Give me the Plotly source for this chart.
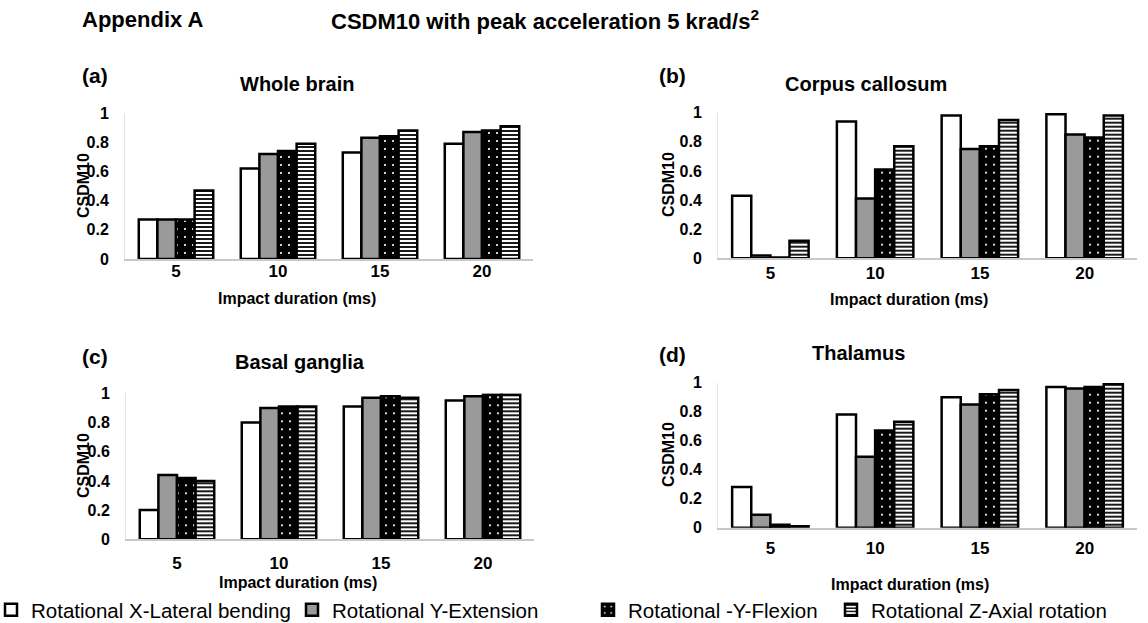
import plotly.graph_objects as go

# Impact durations (ms) on the x axis of every panel
durations = ["5", "10", "15", "20"]

series_names = [
    "Rotational X-Lateral bending",
    "Rotational Y-Extension",
    "Rotational -Y-Flexion",
    "Rotational Z-Axial rotation",
]

# (a) Whole brain
whole_brain_x = [0.27, 0.62, 0.73, 0.79]
whole_brain_y = [0.27, 0.72, 0.83, 0.87]
whole_brain_neg_y = [0.27, 0.74, 0.84, 0.88]
whole_brain_z = [0.47, 0.79, 0.88, 0.91]

# (b) Corpus callosum
corpus_callosum_x = [0.43, 0.94, 0.98, 0.99]
corpus_callosum_y = [0.02, 0.41, 0.75, 0.85]
corpus_callosum_neg_y = [0.005, 0.61, 0.77, 0.83]
corpus_callosum_z = [0.12, 0.77, 0.95, 0.98]

# (c) Basal ganglia
basal_ganglia_x = [0.20, 0.80, 0.91, 0.95]
basal_ganglia_y = [0.44, 0.90, 0.97, 0.98]
basal_ganglia_neg_y = [0.42, 0.91, 0.98, 0.99]
basal_ganglia_z = [0.40, 0.91, 0.97, 0.99]

# (d) Thalamus
thalamus_x = [0.28, 0.78, 0.90, 0.97]
thalamus_y = [0.09, 0.49, 0.85, 0.96]
thalamus_neg_y = [0.02, 0.67, 0.92, 0.97]
thalamus_z = [0.01, 0.73, 0.95, 0.99]

y_ticks = [0, 0.2, 0.4, 0.6, 0.8, 1]
y_tick_text = ["0", "0.2", "0.4", "0.6", "0.8", "1"]

W, H = 1148, 623
FONT = "Liberation Sans, Arial, sans-serif"


def fx(px):
    return px / W


def fy(px):
    return 1 - px / H


panels = [
    dict(label="(a)", title="Whole brain",
         data=[whole_brain_x, whole_brain_y, whole_brain_neg_y, whole_brain_z],
         xdom=(125, 533), ydom=(259, 113), tick_off=-4,
         label_pos=(80, 75), title_pos=(297, 84),
         xtitle_pos=(297, 298), ytitle_pos=(83, 186)),
    dict(label="(b)", title="Corpus callosum",
         data=[corpus_callosum_x, corpus_callosum_y, corpus_callosum_neg_y, corpus_callosum_z],
         xdom=(718, 1137), ydom=(258.3, 112.7), tick_off=-1,
         label_pos=(657, 75), title_pos=(866, 84),
         xtitle_pos=(909, 299), ytitle_pos=(668, 185)),
    dict(label="(c)", title="Basal ganglia",
         data=[basal_ganglia_x, basal_ganglia_y, basal_ganglia_neg_y, basal_ganglia_z],
         xdom=(126, 534), ydom=(539.3, 393.3), tick_off=8,
         label_pos=(80, 356), title_pos=(300, 362),
         xtitle_pos=(298, 582), ytitle_pos=(83, 466)),
    dict(label="(d)", title="Thalamus",
         data=[thalamus_x, thalamus_y, thalamus_neg_y, thalamus_z],
         xdom=(718, 1137), ydom=(527.7, 382.7), tick_off=4,
         label_pos=(657, 354), title_pos=(858, 353),
         xtitle_pos=(910, 584), ytitle_pos=(668, 455)),
]

# fill style of each rotation series
styles = [
    dict(color="white", pattern=dict(shape="")),
    dict(color="#9a9a9a", pattern=dict(shape="")),
    dict(color="black", pattern=dict(shape=".", fillmode="replace", bgcolor="black",
                                     fgcolor="white", size=8, solidity=0.06)),
    dict(color="white", pattern=dict(shape="-", fillmode="replace", bgcolor="white",
                                     fgcolor="black", size=4, solidity=0.45)),
]

legend_ids = ["legend", "legend2", "legend3", "legend4"]
legend_x = [-9, 292, 588, 831]

fig = go.Figure()

for p_i, panel in enumerate(panels):
    suffix = "" if p_i == 0 else str(p_i + 1)
    for s_i, values in enumerate(panel["data"]):
        st = styles[s_i]
        fig.add_trace(go.Bar(
            x=durations, y=values, name=series_names[s_i],
            xaxis="x" + suffix, yaxis="y" + suffix,
            marker=dict(color=st["color"], pattern=st["pattern"],
                        line=dict(color="black", width=2.5)),
            showlegend=(p_i == 0), legend=legend_ids[s_i],
            cliponaxis=False,
        ))

layout = dict(
    width=W, height=H,
    margin=dict(l=0, r=0, t=0, b=0, autoexpand=False),
    paper_bgcolor="white", plot_bgcolor="white",
    barmode="group", bargap=0.27, bargroupgap=0,
    font=dict(family=FONT, color="black"),
    showlegend=True,
    annotations=[],
)

tick_font = dict(family=FONT, size=16, color="black", weight="bold")
axis_title_font = dict(family=FONT, size=16, color="black", weight="bold")
head_font = dict(family=FONT, size=20, color="black", weight="bold")


def note(text, x, y, font, xanchor="center", angle=0):
    layout["annotations"].append(dict(
        text=text, x=fx(x), y=fy(y), xref="paper", yref="paper",
        xanchor=xanchor, yanchor="middle", showarrow=False, textangle=angle,
        font=font))


for p_i, panel in enumerate(panels):
    suffix = "" if p_i == 0 else str(p_i + 1)
    x0, x1 = panel["xdom"]
    yb, yt = panel["ydom"]
    layout["xaxis" + suffix] = dict(
        domain=[fx(x0), fx(x1)], anchor="y" + suffix,
        type="category", showgrid=False, showline=True, linecolor="#c8c8c8",
        linewidth=1.5, ticks="", tickfont=dict(tick_font, size=17),
        ticklabelstandoff=panel["tick_off"], fixedrange=True,
    )
    layout["yaxis" + suffix] = dict(
        domain=[fy(yb), fy(yt)], anchor="x" + suffix,
        range=[0, 1], tickvals=y_ticks, ticktext=y_tick_text,
        showgrid=False, zeroline=False, showline=True, linecolor="#e3e3e3",
        linewidth=1, ticks="", tickfont=tick_font, ticklabelstandoff=12,
        fixedrange=True,
    )
    note(panel["label"], *panel["label_pos"], dict(head_font, size=21), xanchor="left")
    note(panel["title"], *panel["title_pos"], head_font)
    note("Impact duration (ms)", *panel["xtitle_pos"], axis_title_font)
    note("CSDM10", *panel["ytitle_pos"], axis_title_font, angle=-90)

note("Appendix A", 80, 20, dict(head_font, size=22), xanchor="left")
note("CSDM10 with peak acceleration 5 krad/s<sup>2</sup>", 545, 20, dict(head_font, size=22))

for l_i, lid in enumerate(legend_ids):
    layout[lid] = dict(
        x=fx(legend_x[l_i]), y=fy(610), xanchor="left", yanchor="middle",
        orientation="h", bgcolor="rgba(0,0,0,0)", borderwidth=0,
        font=dict(family=FONT, size=20.5, color="black"),
        itemwidth=30, tracegroupgap=0,
    )

fig.update_layout(**layout)
fig.write_html("out.html")
